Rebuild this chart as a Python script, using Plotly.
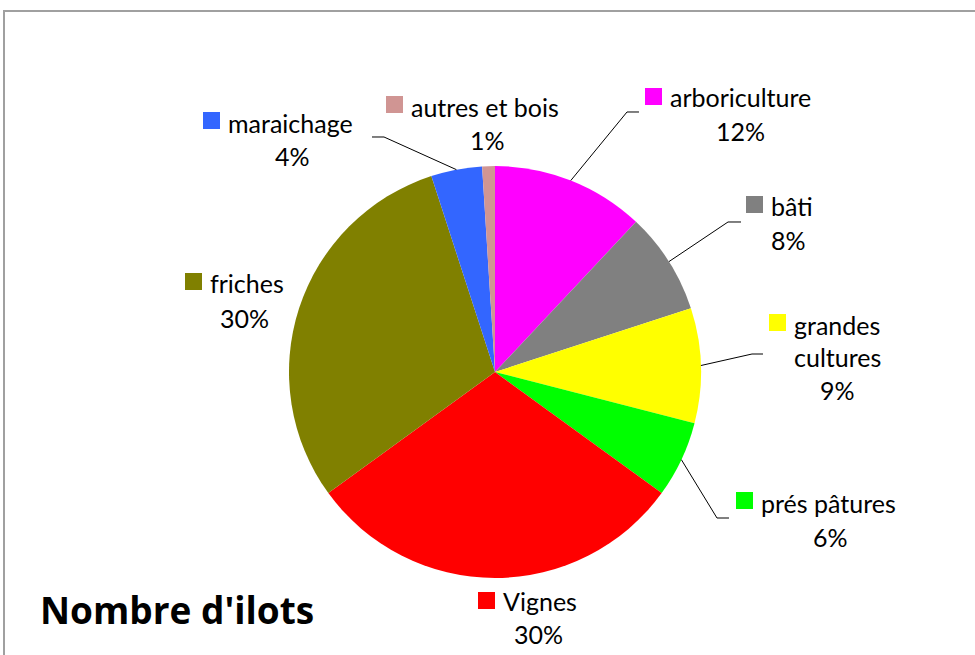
import math
import plotly.graph_objects as go

# ---- data ----
categories = ["arboriculture", "bâti", "grandes cultures", "prés pâtures",
              "Vignes", "friches", "maraichage", "autres et bois"]
percent_values = [12, 8, 9, 6, 30, 30, 4, 1]
slice_colors = ["#FF00FF", "#808080", "#FFFF00", "#00FF00",
                "#FF0000", "#808000", "#3366FF", "#D09593"]
title_text = "Nombre d'ilots"

# ---- layout (pixel geometry) ----
W, H = 975, 655
CX, CY, R = 495, 372, 206
KEY = 17
FONT = "Lato"
FS = 25

# per-label placement: key top-left, name lines (text, y), pct (x, y), leader elbow points
label_layout = {
    "arboriculture":    dict(key=(645, 88),  lines=[("arboriculture", 97)], pct=(740, 131),
                             leader=[(627, 112), (639, 112)]),
    "bâti":             dict(key=(746, 196), lines=[("bâti", 206)], pct=(788, 240),
                             leader=[(728, 222), (741, 222)]),
    "grandes cultures": dict(key=(769, 314), lines=[("grandes", 325), ("cultures", 357)], pct=(837, 390),
                             leader=[(752, 354), (763, 354)]),
    "prés pâtures":     dict(key=(736, 492), lines=[("prés pâtures", 503)], pct=(830, 537),
                             leader=[(717, 518), (729, 518)]),
    "Vignes":           dict(key=(478, 592), lines=[("Vignes", 601)], pct=(538, 634), leader=None),
    "friches":          dict(key=(185, 273), lines=[("friches", 283)], pct=(244, 318), leader=None),
    "maraichage":       dict(key=(203, 112), lines=[("maraichage", 123)], pct=(292, 156),
                             leader=[(384, 137), (372, 137)]),
    "autres et bois":   dict(key=(386, 96),  lines=[("autres et bois", 107)], pct=(487, 140), leader=None),
}


def px(x, y):
    return x / W, 1 - y / H


fig = go.Figure()
fig.add_trace(go.Pie(
    labels=categories, values=percent_values, sort=False, direction="clockwise",
    rotation=0, marker=dict(colors=slice_colors, line=dict(width=0)),
    textinfo="none", hoverinfo="label+percent", showlegend=False,
    domain=dict(x=[(CX - R) / W, (CX + R) / W], y=[1 - (CY + R) / H, 1 - (CY - R) / H]),
))

shapes = []
annotations = []
total = sum(percent_values)
cum = 0.0
for cat, val, col in zip(categories, percent_values, slice_colors):
    mid = (cum + val / 2) / total
    cum += val
    lay = label_layout[cat]
    kx, ky = lay["key"]
    x0, y0 = px(kx, ky)
    x1, y1 = px(kx + KEY, ky + KEY)
    shapes.append(dict(type="rect", xref="paper", yref="paper", x0=x0, x1=x1, y0=y1, y1=y0,
                       fillcolor=col, line=dict(width=0)))
    for i, (txt, ty) in enumerate(lay["lines"]):
        if i == 0:
            ax, ay = px(kx + KEY + 6, ty)
            annotations.append(dict(x=ax, y=ay, xref="paper", yref="paper", text=txt,
                                    showarrow=False, xanchor="left", yanchor="middle",
                                    font=dict(family=FONT, size=FS, color="#000")))
        else:
            ax, ay = px(lay["pct"][0], ty)
            annotations.append(dict(x=ax, y=ay, xref="paper", yref="paper", text=txt,
                                    showarrow=False, xanchor="center", yanchor="middle",
                                    font=dict(family=FONT, size=FS, color="#000")))
    pxx, pyy = px(*lay["pct"])
    annotations.append(dict(x=pxx, y=pyy, xref="paper", yref="paper", text=f"{val}%",
                            showarrow=False, xanchor="center", yanchor="middle",
                            font=dict(family=FONT, size=FS, color="#000")))
    if lay["leader"]:
        th = 2 * math.pi * mid
        sx, sy = CX + R * math.sin(th), CY - R * math.cos(th)
        pts = [(sx, sy)] + lay["leader"]
        pp = [px(a, b) for a, b in pts]
        path = "M " + " L ".join(f"{a:.5f},{b:.5f}" for a, b in pp)
        shapes.append(dict(type="path", xref="paper", yref="paper", path=path,
                           line=dict(color="#000", width=1)))

# chart border
bx0, by0 = px(4, 11)
bx1, by1 = px(W + 10, H + 10)
shapes.append(dict(type="rect", xref="paper", yref="paper", x0=bx0, x1=bx1, y0=by1, y1=by0,
                   line=dict(color="#A0A0A0", width=2), fillcolor="rgba(0,0,0,0)", layer="below"))

tx, ty = px(38, 609)
annotations.append(dict(x=tx, y=ty, xref="paper", yref="paper", text=f"<b>{title_text}</b>",
                        showarrow=False, xanchor="left", yanchor="middle",
                        font=dict(family="Open Sans", size=37, color="#000")))

fig.update_layout(width=W, height=H, margin=dict(l=0, r=0, t=0, b=0),
                  paper_bgcolor="white", plot_bgcolor="white",
                  shapes=shapes, annotations=annotations)
fig.write_html("out.html", config={"displayModeBar": False},
               post_script="document.body.style.margin='0';document.body.style.overflow='hidden';")
